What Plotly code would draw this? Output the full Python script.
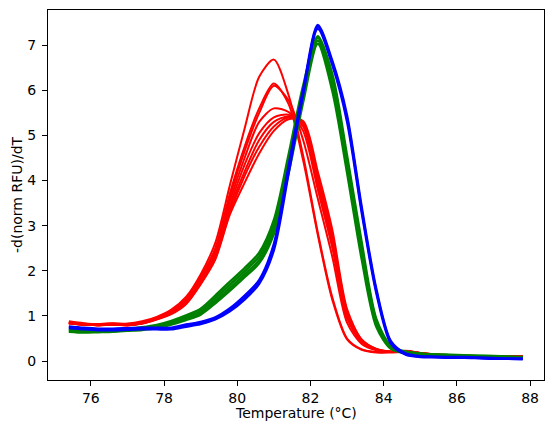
import plotly.graph_objects as go

temperature = [75.4, 75.8, 76.2, 76.6, 77.0, 77.4, 77.8, 78.2, 78.6, 79.0, 79.4, 79.8, 80.2, 80.6, 81.0, 81.4,
               81.8, 82.2, 82.6, 83.0, 83.4, 83.8, 84.2, 84.6, 85.0, 85.4, 85.8, 86.2, 86.6, 87.0, 87.4, 87.8]

red_a = [0.88,0.84,0.82,0.84,0.83,0.88,0.98,1.14,1.42,1.92,2.62,3.9,5.15,6.3,6.68,5.9,4.55,2.85,1.4,0.5,0.26,0.2,0.2,0.22,0.18,0.15,0.13,0.1,0.1,0.09,0.1,0.1]
red_b = [0.84,0.82,0.79,0.82,0.8,0.86,0.96,1.1,1.38,1.86,2.5,3.72,4.75,5.6,6.15,5.7,4.45,2.8,1.35,0.48,0.25,0.19,0.19,0.2,0.17,0.14,0.12,0.1,0.08,0.1,0.09,0.1]
red_c = [0.86,0.8,0.8,0.8,0.81,0.84,0.95,1.1,1.36,1.84,2.46,3.65,4.65,5.5,6.1,5.78,4.9,3.6,2.3,0.85,0.38,0.24,0.2,0.22,0.18,0.15,0.12,0.1,0.09,0.1,0.1,0.11]
red_d = [0.85,0.83,0.81,0.83,0.8,0.85,0.95,1.08,1.34,1.8,2.4,3.55,4.5,5.3,5.6,5.52,5.1,3.8,2.5,0.95,0.42,0.25,0.21,0.22,0.17,0.14,0.12,0.11,0.09,0.1,0.1,0.1]
red_e = [0.84,0.81,0.8,0.82,0.79,0.84,0.94,1.07,1.32,1.76,2.36,3.45,4.35,5.05,5.4,5.46,5.2,3.9,2.6,1.0,0.43,0.25,0.2,0.23,0.18,0.15,0.12,0.1,0.09,0.09,0.1,0.1]
red_f = [0.83,0.82,0.79,0.81,0.8,0.83,0.93,1.06,1.3,1.74,2.32,3.38,4.2,4.9,5.3,5.42,5.25,4.0,2.7,1.05,0.45,0.26,0.21,0.22,0.17,0.14,0.12,0.1,0.09,0.1,0.1,0.1]
red_g = [0.85,0.8,0.8,0.82,0.8,0.84,0.93,1.05,1.28,1.72,2.28,3.3,4.1,4.75,5.2,5.4,5.3,4.1,2.8,1.1,0.47,0.27,0.2,0.21,0.18,0.14,0.12,0.11,0.09,0.09,0.1,0.11]
red_h = [0.84,0.81,0.8,0.81,0.79,0.83,0.92,1.04,1.26,1.7,2.25,3.25,3.95,4.6,5.1,5.36,5.32,4.2,2.9,1.15,0.48,0.27,0.21,0.21,0.17,0.15,0.12,0.1,0.09,0.1,0.1,0.1]

green_a = [0.71,0.69,0.69,0.7,0.72,0.75,0.8,0.89,1.01,1.16,1.45,1.76,2.06,2.4,3.12,4.56,6.1,7.2,6.35,4.55,2.62,0.93,0.33,0.21,0.17,0.15,0.14,0.13,0.12,0.11,0.1,0.09]
green_b = [0.69,0.67,0.67,0.68,0.7,0.73,0.78,0.86,0.97,1.11,1.39,1.69,1.99,2.32,3.02,4.44,5.98,7.16,6.22,4.42,2.5,0.88,0.31,0.2,0.16,0.14,0.13,0.12,0.11,0.1,0.09,0.08]
green_c = [0.67,0.65,0.65,0.66,0.68,0.71,0.75,0.83,0.94,1.07,1.33,1.62,1.92,2.24,2.92,4.3,5.86,7.1,6.1,4.3,2.38,0.82,0.29,0.18,0.14,0.13,0.12,0.11,0.1,0.09,0.08,0.08]
green_d = [0.65,0.63,0.64,0.65,0.67,0.69,0.73,0.81,0.91,1.03,1.28,1.56,1.86,2.17,2.82,4.16,5.74,7.03,5.98,4.18,2.26,0.76,0.27,0.17,0.13,0.12,0.11,0.1,0.09,0.08,0.07,0.07]

blue_a = [0.77,0.74,0.72,0.72,0.73,0.74,0.74,0.74,0.81,0.87,0.97,1.17,1.45,1.8,2.6,4.32,6.02,7.45,6.65,5.45,3.42,1.6,0.44,0.17,0.11,0.1,0.09,0.09,0.08,0.07,0.06,0.06]
blue_b = [0.75,0.72,0.7,0.7,0.71,0.72,0.72,0.72,0.79,0.85,0.95,1.14,1.41,1.76,2.53,4.24,5.96,7.41,6.6,5.38,3.35,1.55,0.41,0.15,0.1,0.09,0.08,0.08,0.07,0.06,0.05,0.05]
blue_c = [0.73,0.7,0.68,0.68,0.69,0.7,0.7,0.7,0.76,0.82,0.92,1.1,1.36,1.71,2.45,4.14,5.9,7.36,6.55,5.3,3.28,1.5,0.38,0.14,0.09,0.08,0.07,0.07,0.06,0.05,0.05,0.04]

x_ticks = [76, 78, 80, 82, 84, 86, 88]
y_ticks = [0, 1, 2, 3, 4, 5, 6, 7]

groups = [
    ("red", 2, [red_a, red_b, red_c, red_d, red_e, red_f, red_g, red_h]),
    ("green", 2.5, [green_a, green_b, green_c, green_d]),
    ("blue", 2.3, [blue_a, blue_b, blue_c]),
]

fig = go.Figure()
for color, lw, curves in groups:
    for ys in curves:
        fig.add_trace(go.Scatter(
            x=temperature, y=ys, mode="lines",
            line=dict(color=color, width=lw, shape="spline", smoothing=0.8),
            showlegend=False, hoverinfo="skip"))

axis_common = dict(
    showline=True, mirror=True, linecolor="black", linewidth=1,
    ticks="outside", ticklen=5, tickwidth=1, tickcolor="black",
    showgrid=False, zeroline=False, automargin=False,
    tickfont=dict(family="DejaVu Sans", size=14, color="black"),
)

# the page body has an 8px margin, so the figure is sized/offset to place the axes box correctly
fig.update_layout(
    template="none",
    width=538, height=416,
    margin=dict(l=40, r=2, t=2, b=44),
    paper_bgcolor="white", plot_bgcolor="white",
    font=dict(family="DejaVu Sans", size=14, color="black"),
    xaxis=dict(range=[74.83, 88.38], tickvals=x_ticks, ticktext=[str(v) for v in x_ticks], **axis_common),
    yaxis=dict(range=[-0.42, 7.78], tickvals=y_ticks, ticktext=[str(v) for v in y_ticks],
               ticklabelstandoff=3, **axis_common),
    annotations=[
        dict(text="Temperature (°C)", xref="paper", yref="paper", x=0.5, y=0, yshift=-33,
             xanchor="center", yanchor="middle", showarrow=False,
             font=dict(family="DejaVu Sans", size=14, color="black")),
        dict(text="-d(norm RFU)/dT", xref="paper", yref="paper", x=0, y=0.5, xshift=-31,
             xanchor="center", yanchor="middle", textangle=-90, showarrow=False,
             font=dict(family="DejaVu Sans", size=14, color="black")),
    ],
)

fig.write_html("out.html")
